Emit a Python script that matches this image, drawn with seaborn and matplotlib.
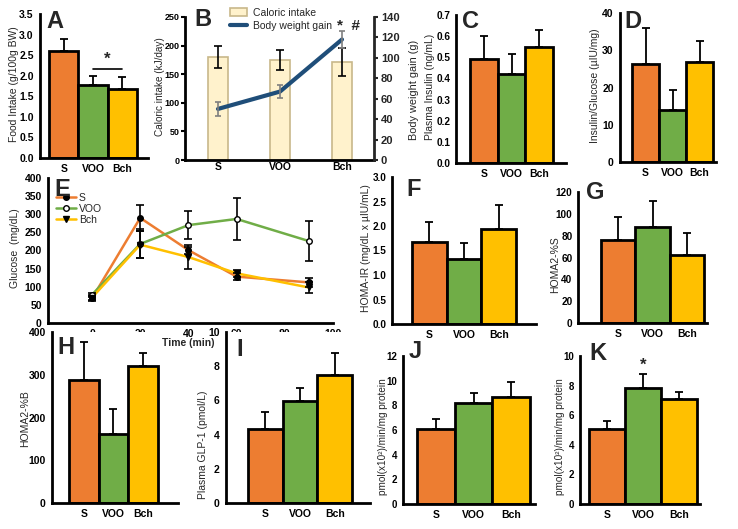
import numpy as np
import pandas as pd
import matplotlib
matplotlib.use("Agg")
import matplotlib.pyplot as plt
import seaborn as sns
from matplotlib.lines import Line2D
from matplotlib.patches import Patch

# ---------------- data ----------------
groups = ["S", "VOO", "Bch"]
food_intake = [2.60, 1.78, 1.67]
food_intake_err = [0.30, 0.22, 0.31]
caloric_intake = [180, 175, 171]
caloric_intake_err = [20, 17, 24]
weight_gain = [50, 67, 118]
weight_gain_err = [7, 6, 8]
plasma_insulin = [0.49, 0.42, 0.55]
plasma_insulin_err = [0.11, 0.095, 0.08]
insulin_glucose = [26.3, 14.0, 26.9]
insulin_glucose_err = [9.7, 5.2, 5.6]
time_min = [0, 20, 40, 60, 90]
glucose_S = [68, 290, 201, 128, 112]
glucose_S_err = [6, 35, 10, 10, 12]
glucose_VOO = [78, 218, 270, 287, 226]
glucose_VOO_err = [6, 40, 38, 57, 56]
glucose_Bch = [70, 216, 182, 137, 98]
glucose_Bch_err = [6, 38, 33, 10, 14]
homa_ir = [1.68, 1.32, 1.94]
homa_ir_err = [0.40, 0.34, 0.48]
homa_s = [76, 88, 62]
homa_s_err = [21, 23.5, 20]
homa_b = [288, 162, 320]
homa_b_err = [89, 59, 30]
glp1 = [4.33, 5.98, 7.48]
glp1_err = [0.97, 0.72, 1.27]
activity_J = [6.05, 8.16, 8.68]
activity_J_err = [0.87, 0.87, 1.24]
activity_K = [5.04, 7.84, 7.09]
activity_K_err = [0.59, 0.92, 0.46]

# ---------------- style ----------------
colors = ["#ED7D31", "#70AD47", "#FFC000"]
FONT = "Liberation Sans"
sns.set_style("white")
plt.rcParams["font.family"] = [FONT, "DejaVu Sans"]
plt.rcParams["axes.linewidth"] = 2

W, H = 738, 529
fig = plt.figure(figsize=(W / 100, H / 100), dpi=100)


def axes_px(x0, x1, y0, y1):
    return fig.add_axes([x0 / W, 1 - y1 / H, (x1 - x0) / W, (y1 - y0) / H])


def style_axis(ax, yticks, fmt, tsize=7.5, pad=1.5):
    for s in ["top", "right"]:
        ax.spines[s].set_visible(False)
    for s in ["left", "bottom"]:
        ax.spines[s].set_linewidth(2)
        ax.spines[s].set_color("black")
    ax.set_yticks(yticks)
    ax.set_yticklabels([fmt.format(v) for v in yticks])
    ax.tick_params(axis="both", direction="out", length=3, width=1.5,
                   labelsize=tsize, pad=pad, colors="black")
    ax.tick_params(axis="x", labelsize=7.5, pad=1.5)
    for lab in ax.get_xticklabels() + ax.get_yticklabels():
        lab.set_fontweight("bold")
    ax.set_xlabel("")
    ax.set_ylabel("")


def ptext(x, y, s, **kw):
    fig.text(x / W, 1 - y / H, s, **kw)


def letter(x, y, s):
    ptext(x, y, s, fontsize=17, fontweight="bold", ha="left", va="center")


def ylab(x, y, s, size=7.5):
    ptext(x, y, s, fontsize=size, rotation=90, ha="center", va="center")


def bar_panel(box, bars_px, vals, errs, ymax, yticks, fmt, tsize=7.5, pad=1.5):
    x0, x1, y0, y1 = box
    ax = axes_px(x0, x1, y0, y1)
    df = pd.DataFrame({"g": groups, "v": vals})
    sns.barplot(data=df, x="g", y="v", hue="g", palette=colors, width=1.0,
                edgecolor="black", linewidth=2, saturation=1, legend=False,
                errorbar=None, ax=ax)
    ax.errorbar(range(3), vals, yerr=[np.zeros(3), errs], fmt="none",
                ecolor="black", elinewidth=1.3, capsize=3, capthick=1.3,
                zorder=1)
    L, R = bars_px
    unit = (R - L) / 3
    ax.set_xlim(-0.5 - (L - x0) / unit, 2.5 + (x1 - R) / unit)
    ax.set_ylim(0, ymax)
    style_axis(ax, yticks, fmt, tsize, pad)
    return ax


# ---------------- A ----------------
axA = bar_panel((40, 148, 14, 158), (49, 137), food_intake, food_intake_err,
                3.5, np.arange(0, 3.51, 0.5), "{:.1f}")
axA.plot([1, 2], [2.16, 2.16], color="black", lw=1.2)
axA.text(1.5, 2.22, "*", ha="center", va="bottom", fontsize=12, fontweight="bold")
letter(46, 21, "A")
ylab(14, 84, "Food Intake (g/100g BW)")

# ---------------- B ----------------
x0, x1, y0, y1 = 185, 374, 17, 160
axB = axes_px(x0, x1, y0, y1)
dfB = pd.DataFrame({"g": groups, "v": caloric_intake})
sns.barplot(data=dfB, x="g", y="v", color="#FFF2CC", width=0.32,
            edgecolor="#C8B88A", linewidth=1.2, saturation=1, errorbar=None,
            ax=axB)
axB.errorbar(range(3), caloric_intake, yerr=caloric_intake_err, fmt="none",
             ecolor="black", elinewidth=1.2, capsize=3, capthick=1.2)
axB.set_xlim(-(218 - x0) / 62, 2 + (x1 - 342) / 62)
axB.set_ylim(0, 250)
style_axis(axB, np.arange(0, 251, 50), "{:.0f}", tsize=6.5, pad=1)
axB.tick_params(axis="x", length=0)
axB2 = axB.twinx()
sns.lineplot(x=[0, 1, 2], y=weight_gain, color="#1F4E79", lw=3, ax=axB2)
axB2.errorbar([0, 1, 2], weight_gain, yerr=weight_gain_err, fmt="none",
              ecolor="#7F7F7F", elinewidth=1.2, capsize=2.5, capthick=1.2)
axB2.set_ylim(0, 140)
axB2.set_xlim(axB.get_xlim())
for s in ["top", "left", "bottom"]:
    axB2.spines[s].set_visible(False)
axB2.spines["right"].set_linewidth(2)
axB2.set_yticks(np.arange(0, 141, 20))
axB2.tick_params(axis="y", direction="out", length=3, width=1.5,
                 labelsize=8, pad=2)
for lab in axB2.get_yticklabels():
    lab.set_fontweight("bold")
axB2.set_ylabel("")
axB2.text(2.11, 124, "*  #", ha="center", va="bottom", fontsize=11,
          fontweight="bold")
handlesB = [Patch(facecolor="#FFF2CC", edgecolor="#C8B88A", lw=1.2),
            Line2D([], [], color="#1F4E79", lw=3)]
axB.legend(handlesB, ["Caloric intake", "Body weight gain"], loc="upper left",
           bbox_to_anchor=(230 / W, 1 - 8 / H), bbox_transform=fig.transFigure,
           frameon=False, fontsize=7.5, handlelength=1.6, handleheight=0.8,
           handletextpad=0.6, labelspacing=0.25, borderpad=0, borderaxespad=0)
letter(194, 19, "B")
ylab(160, 87, "Caloric intake (kJ/day)", size=7.2)
ylab(414, 90, "Body weight gain (g)", size=7.8)

# ---------------- C ----------------
bar_panel((456, 566, 15, 163), (470, 553), plasma_insulin, plasma_insulin_err,
          0.7, np.arange(0, 0.71, 0.1), "{:.1f}", tsize=7.2, pad=1)
letter(462, 21, "C")
ylab(430, 87, "Plasma Insulin (ng/mL)")

# ---------------- D ----------------
bar_panel((620, 716, 13, 162), (632, 713), insulin_glucose, insulin_glucose_err,
          40, np.arange(0, 41, 10), "{:.0f}")
letter(624, 21, "D")
ylab(595, 86, "Insulin/Glucose (\u00b5IU/mg)")

# ---------------- E ----------------
x0, x1, y0, y1 = 48, 333, 178, 323
axE = axes_px(x0, x1, y0, y1)
dfE = pd.DataFrame({
    "t": time_min * 3,
    "g": ["S"] * 5 + ["VOO"] * 5 + ["Bch"] * 5,
    "v": glucose_S + glucose_VOO + glucose_Bch,
})
sns.lineplot(data=dfE, x="t", y="v", hue="g", palette=colors, lw=1.8,
             legend=False, ax=axE, zorder=2)
marker_style = {"S": dict(marker="o", mfc="black"),
                "VOO": dict(marker="o", mfc="white"),
                "Bch": dict(marker="v", mfc="black")}
for g, vals, errs in [("S", glucose_S, glucose_S_err),
                      ("VOO", glucose_VOO, glucose_VOO_err),
                      ("Bch", glucose_Bch, glucose_Bch_err)]:
    axE.errorbar(time_min, vals, yerr=errs, fmt="none", ecolor="black",
                 elinewidth=1.2, capsize=3, capthick=1.2, zorder=3)
    axE.plot(time_min, vals, ls="none", ms=4, mec="black", mew=1, zorder=4,
             **marker_style[g])
axE.set_xlim(-(92 - x0) / 2.41, 100)
axE.set_ylim(0, 400)
axE.set_xticks(np.arange(0, 101, 20))
style_axis(axE, np.arange(0, 401, 50), "{:.0f}")
handlesE = [Line2D([], [], color=c, lw=1.8, ms=4, mec="black", **marker_style[g])
            for g, c in zip(groups, colors)]
axE.legend(handlesE, groups, loc="upper left", bbox_to_anchor=(56 / W, 1 - 193 / H),
           bbox_transform=fig.transFigure, frameon=False, fontsize=7.5,
           handlelength=1.9, handletextpad=0.3, labelspacing=0.1, borderpad=0,
           borderaxespad=0)
letter(54, 189, "E")
ylab(15, 248, "Glucose  (mg/dL)")
ptext(188, 343, "Time (min)", fontsize=7.5, fontweight="bold", ha="center",
      va="center")

# ---------------- F ----------------
bar_panel((392, 536, 177, 324), (412, 516), homa_ir, homa_ir_err,
          3.0, np.arange(0, 3.01, 0.5), "{:.1f}", tsize=7.2, pad=1)
letter(406, 190, "F")
ylab(366, 248, "HOMA-IR (mg/dL x \u00b5IU/mL)")

# ---------------- G ----------------
bar_panel((578, 707, 192, 323), (601, 704), homa_s, homa_s_err,
          120, np.arange(0, 121, 20), "{:.0f}", tsize=7.2, pad=1)
letter(586, 193, "G")
ylab(555, 265, "HOMA2-%S")

# ---------------- H ----------------
bar_panel((52, 178, 332, 503), (69, 158), homa_b, homa_b_err,
          400, np.arange(0, 401, 100), "{:.0f}")
letter(57, 347, "H")
ylab(25, 419, "HOMA2-%B")

# ---------------- I ----------------
bar_panel((226, 370, 332, 503), (248, 352), glp1, glp1_err,
          10, np.arange(0, 11, 2), "{:.0f}")
letter(236, 349, "I")
ylab(203, 445, "Plasma GLP-1 (pmol/L)")

# ---------------- J ----------------
bar_panel((403, 535, 356, 504), (417, 530), activity_J, activity_J_err,
          12, np.arange(0, 13, 2), "{:.0f}", tsize=7, pad=1)
letter(409, 352, "J")
ylab(383, 437, "pmol(x10\u00b2)/min/mg protein", size=7.2)

# ---------------- K ----------------
axK = bar_panel((580, 700, 356, 504), (589, 697), activity_K, activity_K_err,
                10, np.arange(0, 11, 2), "{:.0f}", tsize=7, pad=1)
axK.text(1, 8.9, "*", ha="center", va="bottom", fontsize=12, fontweight="bold")
letter(589, 354, "K")
ylab(560, 437, "pmol(x10\u00b2)/min/mg protein", size=7.2)

fig.savefig("out.png", dpi=100)
